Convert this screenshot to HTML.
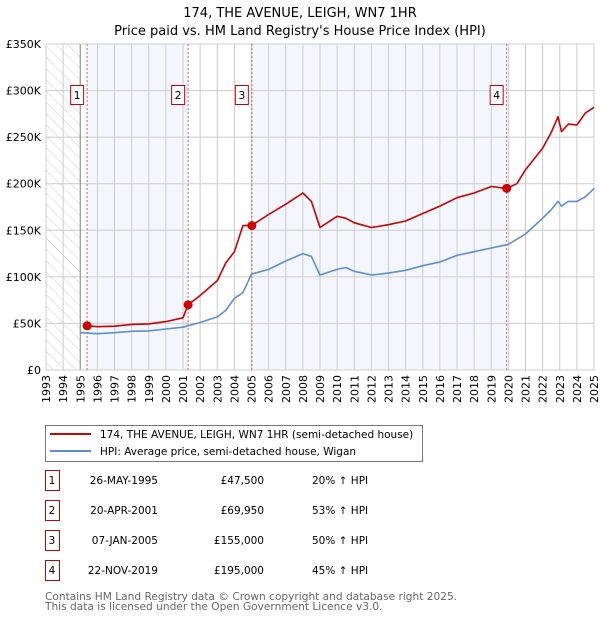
<!DOCTYPE html>
<html><head><meta charset="utf-8"><style>
body{margin:0;background:#fff;font-family:"DejaVu Sans","Liberation Sans",sans-serif;}
svg text{font-family:"DejaVu Sans","Liberation Sans",sans-serif;}
</style></head><body>
<svg id="c" width="600" height="620" xmlns="http://www.w3.org/2000/svg">
<defs><pattern id="hatch" width="8" height="8" patternUnits="userSpaceOnUse" patternTransform="rotate(-45)"><line x1="0" y1="0" x2="0" y2="8" stroke="#ccc" stroke-width="1"/></pattern></defs>
<text x="300" y="17" font-size="13" text-anchor="middle">174, THE AVENUE, LEIGH, WN7 1HR</text>
<text x="300" y="35" font-size="13" text-anchor="middle">Price paid vs. HM Land Registry's House Price Index (HPI)</text>
<g id="plot"></g>
<g>
<rect x="45.5" y="425.5" width="377" height="36" fill="#fff" stroke="#777"/>
<line x1="50" y1="434" x2="91" y2="434" stroke="#cc0000" stroke-width="2"/>
<text x="100" y="438" font-size="10.5">174, THE AVENUE, LEIGH, WN7 1HR (semi-detached house)</text>
<line x1="50" y1="451" x2="91" y2="451" stroke="#5b8fd4" stroke-width="2"/>
<text x="100" y="455" font-size="10.5">HPI: Average price, semi-detached house, Wigan</text>
</g>
<g id="table" font-size="10.5"></g>
<text x="45" y="600" font-size="10.6" fill="#666">Contains HM Land Registry data © Crown copyright and database right 2025.</text>
<text x="45" y="610" font-size="10.6" fill="#666">This data is licensed under the Open Government Licence v3.0.</text>
</svg>
<script>
const hpiYears=[1995,1996,1997,1998,1999,2000,2001,2002,2003,2003.5,2004,2004.5,2005,2006,2007,2008,2008.5,2009,2010,2010.5,2011,2012,2013,2014,2015,2016,2017,2018,2019,2020,2021,2022,2022.5,2022.9,2023.1,2023.5,2024,2024.5,2025];
const hpiValues=[40,39,40,41.5,42,44,46,51,57,64,77,83,103,108,117,125,122,102,108,110,106,102,104,107,112,116,123,127,131,135,146,163,172,181,176,181,181,186,195];
const priceYears=[1995.4,1996,1997,1998,1999,2000,2001,2001.3,2002,2003,2003.5,2004,2004.5,2005,2006,2007,2008,2008.5,2009,2010,2010.5,2011,2012,2013,2014,2015,2016,2017,2018,2019,2019.9,2020.5,2021,2022,2022.5,2022.9,2023.1,2023.5,2024,2024.5,2025];
const priceValues=[47.5,46.5,47,49,49.5,52,56,70,80,96,115,127,155,155,167,178,190,181,153,165,163,158,153,156,160,168,176,185,190,197,195,200,215,238,255,272,256,264,263,276,282];
const saleLabels=["1","2","3","4"];
const saleDates=[1995.4,2001.3,2005.02,2019.9];
const salePrices=[47.5,69.95,155,195];
const saleDateText=["26-MAY-1995","20-APR-2001","07-JAN-2005","22-NOV-2019"];
const salePriceText=["£47,500","£69,950","£155,000","£195,000"];
const saleHpiText=["20% ↑ HPI","53% ↑ HPI","50% ↑ HPI","45% ↑ HPI"];
const yTicks=[0,50,100,150,200,250,300,350];
const yTickLabels=["£0","£50K","£100K","£150K","£200K","£250K","£300K","£350K"];
const xTicks=[1993,1994,1995,1996,1997,1998,1999,2000,2001,2002,2003,2004,2005,2006,2007,2008,2009,2010,2011,2012,2013,2014,2015,2016,2017,2018,2019,2020,2021,2022,2023,2024,2025];

const X0=46,X1=594,Y0=370,Y1=44;
const xs=y=>X0+(y-1993)/(2025-1993)*(X1-X0);
const ys=v=>Y0-v/350*(Y0-Y1);
const NS="http://www.w3.org/2000/svg";
const plot=document.getElementById('plot');
function mk(tag,attrs,parent){const e=document.createElementNS(NS,tag);for(const k in attrs)e.setAttribute(k,attrs[k]);(parent||plot).appendChild(e);return e;}
let r;
r=mk('rect',{x:X0,y:Y1,width:xs(1995)-X0,height:Y0-Y1,fill:'url(#hatch)'});


r=mk('rect',{x:xs(saleDates[0]),y:Y1,width:xs(saleDates[1])-xs(saleDates[0]),height:Y0-Y1,fill:'#eef3fc',opacity:0.7});


r=mk('rect',{x:xs(saleDates[2]),y:Y1,width:xs(saleDates[3])-xs(saleDates[2]),height:Y0-Y1,fill:'#eef3fc',opacity:0.7});


xTicks.forEach((t,i)=>{
 const g=mk('line',{x1:xs(t),x2:xs(t),y1:Y1,y2:Y0,stroke:'#ccc','stroke-width':1});
 
 
 const tx=mk('text',{x:0,y:0,'font-size':11,'text-anchor':'end',transform:`translate(${xs(t)+4},${Y0+5}) rotate(-90)`});
 tx.textContent=t;
 
 
});
yTicks.forEach((t,i)=>{
 const g=mk('line',{x1:X0,x2:X1,y1:ys(t),y2:ys(t),stroke:'#ccc','stroke-width':1});
 
 
 const tx=mk('text',{x:41,y:ys(t)+4,'font-size':11,'text-anchor':'end'});
 tx.textContent=yTickLabels[i];
 
 
});
r=mk('line',{x1:xs(1995),x2:xs(1995),y1:Y1,y2:Y0,stroke:'#888'});


r=mk('rect',{x:X0,y:Y1,width:X1-X0,height:Y0-Y1,fill:'none',stroke:'#ccc'});


saleDates.forEach((d,i)=>{
 const l=mk('line',{x1:xs(d),x2:xs(d),y1:Y1,y2:Y0,stroke:'#e06060','stroke-dasharray':'2,2'});
 
 
 const b=mk('rect',{x:xs(d)-16.5,y:85.5,width:13,height:19,fill:'#fff',stroke:'#cc0000'});
 
 
 const t=mk('text',{x:xs(d)-10,y:99,'font-size':11,'text-anchor':'middle'});
 t.textContent=saleLabels[i];
 
 
});
function path(xa,va,color,name){
 const d=xa.map((x,i)=>(i?'L':'M')+xs(x).toFixed(1)+','+ys(va[i]).toFixed(1)).join('');
 const p=mk('path',{d:d,fill:'none',stroke:color,'stroke-width':1.6,'stroke-linejoin':'round'});
 
 
}
path(hpiYears,hpiValues,'#5b8fd4','hpi-line');
path(priceYears,priceValues,'#cc0000','price-line');
saleDates.forEach((d,i)=>{
 const c=mk('circle',{cx:xs(d),cy:ys(salePrices[i]),r:4.5,fill:'#cc0000'});
 
 
});
const tb=document.getElementById('table');
saleLabels.forEach((s,i)=>{
 const y=484+i*30;
 const b=mk('rect',{x:45.5,y:y-13.5,width:14,height:20,fill:'#fff',stroke:'#cc0000'},tb);
 
 
 const vals=[[s,52,'middle'],[saleDateText[i],158,'end'],[salePriceText[i],264,'end'],[saleHpiText[i],312,'start']];
 vals.forEach(v=>{
  const t=mk('text',{x:v[1],y:y,'text-anchor':v[2]},tb);
  t.textContent=v[0];
  
  
 });
});
</script>
</body></html>
